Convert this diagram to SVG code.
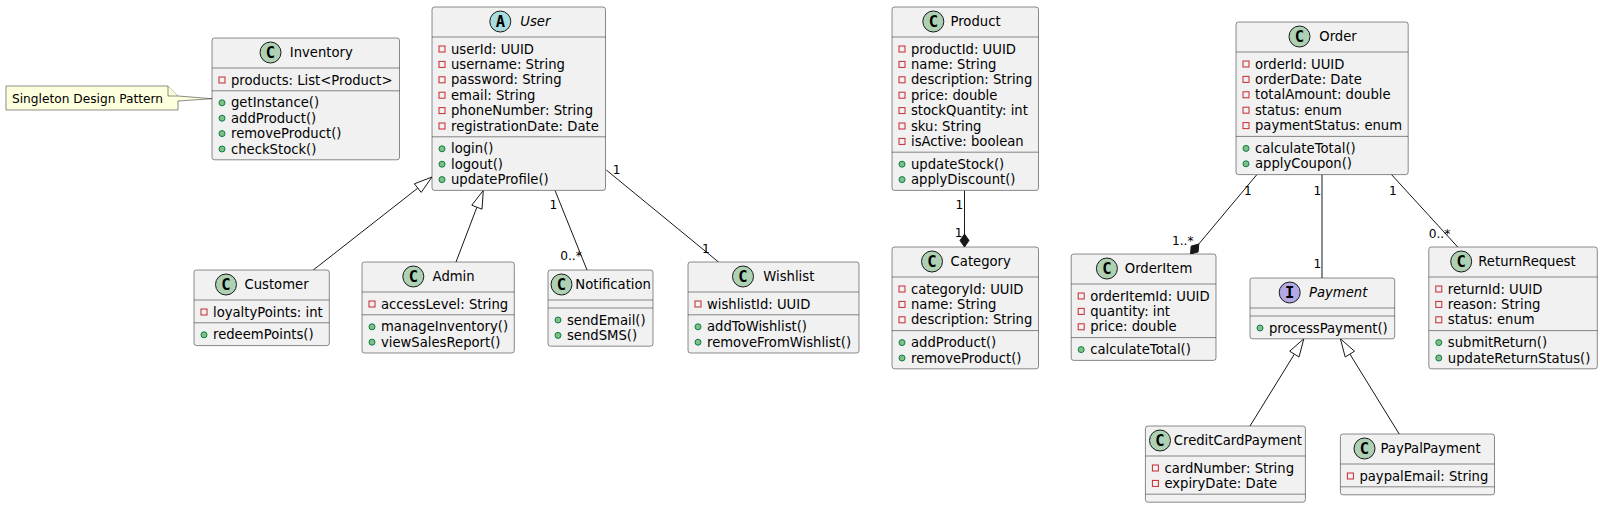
<svg xmlns="http://www.w3.org/2000/svg" width="1600" height="507" viewBox="0 0 1600 507">
<style>
.bg{fill:#FFFFFF}
.box{fill:#F1F1F1;stroke:#181818;stroke-width:0.5}
.sep{stroke:#181818;stroke-width:0.5}
.t{font-family:"DejaVu Sans",sans-serif;font-size:13.2px;fill:#000000}
.it{font-style:italic}
.lb{font-family:"DejaVu Sans",sans-serif;font-size:12.2px;fill:#000000;text-anchor:middle}
.nt{font-family:"DejaVu Sans",sans-serif;font-size:12.2px;fill:#000000}
.ck{font-family:"DejaVu Sans Mono",monospace;font-size:15.5px;font-weight:bold;fill:#000000;text-anchor:middle}
.cc{fill:#ADD1B2;stroke:#181818;stroke-width:1}
.ca{fill:#A9DCDF;stroke:#181818;stroke-width:1}
.ci{fill:#B4A7E5;stroke:#181818;stroke-width:1}
.pv{fill:none;stroke:#C82930;stroke-width:1}
.pb{fill:#84BE84;stroke:#038048;stroke-width:1}
.e{fill:none;stroke:#181818;stroke-width:1}
.tri{fill:#FFFFFF;stroke:#181818;stroke-width:1}
.dia{fill:#181818;stroke:#181818;stroke-width:1}
.note{fill:#FEFFDD;stroke:#181818;stroke-width:0.5}
</style>
<rect class="bg" x="0" y="0" width="1600" height="507"/>

<g id="connectors">
  <!-- Customer -> User -->
  <line class="e" x1="313.3" y1="270" x2="417.8" y2="188.1"/>
  <polygon class="tri" points="432,177 421.2,192.4 414.4,183.8"/>
  <!-- Admin -> User -->
  <line class="e" x1="456" y1="262" x2="476.9" y2="207.2"/>
  <polygon class="tri" points="483.3,190.4 482.0,209.2 471.8,205.2"/>
  <!-- User - Notification -->
  <line class="e" x1="555" y1="190.4" x2="587" y2="270"/>
  <text class="lb" x="553.5" y="209.3">1</text>
  <text class="lb" x="571" y="260">0..*</text>
  <!-- User - Wishlist -->
  <line class="e" x1="606.3" y1="170" x2="718.5" y2="262"/>
  <text class="lb" x="616.7" y="173.5">1</text>
  <text class="lb" x="706" y="252.5">1</text>
  <!-- Product - Category (composition) -->
  <line class="e" x1="964.5" y1="190.4" x2="964.5" y2="234"/>
  <polygon class="dia" points="964.5,247 969,240.5 964.5,234 960,240.5"/>
  <text class="lb" x="959.3" y="209.3">1</text>
  <text class="lb" x="958.7" y="236.5">1</text>
  <!-- Order - OrderItem (composition) -->
  <line class="e" x1="1256.9" y1="174.6" x2="1198.8" y2="244"/>
  <polygon class="dia" points="1190.5,254 1198.1,251.9 1198.8,244 1191.2,246.1"/>
  <text class="lb" x="1248" y="195">1</text>
  <text class="lb" x="1182.7" y="245">1..*</text>
  <!-- Order - Payment -->
  <line class="e" x1="1322" y1="174.6" x2="1322" y2="278"/>
  <text class="lb" x="1317.3" y="195">1</text>
  <text class="lb" x="1317.3" y="267.5">1</text>
  <!-- Order - ReturnRequest -->
  <line class="e" x1="1391.5" y1="174.6" x2="1457.7" y2="247"/>
  <text class="lb" x="1393" y="195">1</text>
  <text class="lb" x="1439.5" y="237.5">0..*</text>
  <!-- CreditCardPayment -> Payment -->
  <line class="e" x1="1250" y1="426" x2="1294.4" y2="354.1"/>
  <polygon class="tri" points="1303.8,338.8 1299.0,357.0 1289.7,351.2"/>
  <!-- PayPalPayment -> Payment -->
  <line class="e" x1="1399.2" y1="434" x2="1349.9" y2="354.1"/>
  <polygon class="tri" points="1340.4,338.8 1354.5,351.2 1345.2,357.0"/>
</g>

<g id="note">
  <path class="note" d="M6,86 L168,86 L178,96 L212,98.7 L178,101 L178,110 L6,110 Z"/>
  <path class="note" d="M168,86 L168,96 L178,96" fill="none"/>
  <text class="nt" x="12" y="103">Singleton Design Pattern</text>
</g>

<g id="Inventory">
  <rect class="box" x="212" y="38" width="187.5" height="121.8" rx="2.5"/>
  <circle class="cc" cx="270.5" cy="52.5" r="10.5"/>
  <text class="ck" x="270.5" y="58.1">C</text>
  <text class="t" x="289.8" y="57">Inventory</text>
  <line class="sep" x1="212" y1="68" x2="399.5" y2="68"/>
  <rect class="pv" x="219" y="77" width="6" height="6"/>
  <text class="t" x="231" y="84.5">products: List&lt;Product&gt;</text>
  <line class="sep" x1="212" y1="90.8" x2="399.5" y2="90.8"/>
  <circle class="pb" cx="222" cy="102.8" r="3"/>
  <text class="t" x="231" y="107.3">getInstance()</text>
  <circle class="pb" cx="222" cy="118.2" r="3"/>
  <text class="t" x="231" y="122.7">addProduct()</text>
  <circle class="pb" cx="222" cy="133.6" r="3"/>
  <text class="t" x="231" y="138.1">removeProduct()</text>
  <circle class="pb" cx="222" cy="149" r="3"/>
  <text class="t" x="231" y="153.5">checkStock()</text>
</g>

<g id="User">
  <rect class="box" x="432" y="7" width="173.5" height="183.4" rx="2.5"/>
  <circle class="ca" cx="500.3" cy="21.5" r="10.5"/>
  <text class="ck" x="500.3" y="27.1">A</text>
  <text class="t it" x="520.3" y="26">User</text>
  <line class="sep" x1="432" y1="37" x2="605.5" y2="37"/>
  <rect class="pv" x="439" y="46" width="6" height="6"/>
  <text class="t" x="451" y="53.5">userId: UUID</text>
  <rect class="pv" x="439" y="61.4" width="6" height="6"/>
  <text class="t" x="451" y="68.9">username: String</text>
  <rect class="pv" x="439" y="76.8" width="6" height="6"/>
  <text class="t" x="451" y="84.3">password: String</text>
  <rect class="pv" x="439" y="92.2" width="6" height="6"/>
  <text class="t" x="451" y="99.7">email: String</text>
  <rect class="pv" x="439" y="107.6" width="6" height="6"/>
  <text class="t" x="451" y="115.1">phoneNumber: String</text>
  <rect class="pv" x="439" y="123" width="6" height="6"/>
  <text class="t" x="451" y="130.5">registrationDate: Date</text>
  <line class="sep" x1="432" y1="136.8" x2="605.5" y2="136.8"/>
  <circle class="pb" cx="442" cy="148.8" r="3"/>
  <text class="t" x="451" y="153.3">login()</text>
  <circle class="pb" cx="442" cy="164.2" r="3"/>
  <text class="t" x="451" y="168.7">logout()</text>
  <circle class="pb" cx="442" cy="179.6" r="3"/>
  <text class="t" x="451" y="184.1">updateProfile()</text>
</g>

<g id="Product">
  <rect class="box" x="892" y="7" width="146.5" height="183.4" rx="2.5"/>
  <circle class="cc" cx="933.3" cy="21.5" r="10.5"/>
  <text class="ck" x="933.3" y="27.1">C</text>
  <text class="t" x="950.5" y="26">Product</text>
  <line class="sep" x1="892" y1="37" x2="1038.5" y2="37"/>
  <rect class="pv" x="899" y="46" width="6" height="6"/>
  <text class="t" x="911" y="53.5">productId: UUID</text>
  <rect class="pv" x="899" y="61.4" width="6" height="6"/>
  <text class="t" x="911" y="68.9">name: String</text>
  <rect class="pv" x="899" y="76.8" width="6" height="6"/>
  <text class="t" x="911" y="84.3">description: String</text>
  <rect class="pv" x="899" y="92.2" width="6" height="6"/>
  <text class="t" x="911" y="99.7">price: double</text>
  <rect class="pv" x="899" y="107.6" width="6" height="6"/>
  <text class="t" x="911" y="115.1">stockQuantity: int</text>
  <rect class="pv" x="899" y="123" width="6" height="6"/>
  <text class="t" x="911" y="130.5">sku: String</text>
  <rect class="pv" x="899" y="138.4" width="6" height="6"/>
  <text class="t" x="911" y="145.9">isActive: boolean</text>
  <line class="sep" x1="892" y1="152.2" x2="1038.5" y2="152.2"/>
  <circle class="pb" cx="902" cy="164.2" r="3"/>
  <text class="t" x="911" y="168.7">updateStock()</text>
  <circle class="pb" cx="902" cy="179.6" r="3"/>
  <text class="t" x="911" y="184.1">applyDiscount()</text>
</g>

<g id="Category">
  <rect class="box" x="892" y="247" width="146.5" height="121.8" rx="2.5"/>
  <circle class="cc" cx="932" cy="261.5" r="10.5"/>
  <text class="ck" x="932" y="267.1">C</text>
  <text class="t" x="950.6" y="266">Category</text>
  <line class="sep" x1="892" y1="277" x2="1038.5" y2="277"/>
  <rect class="pv" x="899" y="286" width="6" height="6"/>
  <text class="t" x="911" y="293.5">categoryId: UUID</text>
  <rect class="pv" x="899" y="301.4" width="6" height="6"/>
  <text class="t" x="911" y="308.9">name: String</text>
  <rect class="pv" x="899" y="316.8" width="6" height="6"/>
  <text class="t" x="911" y="324.3">description: String</text>
  <line class="sep" x1="892" y1="330.6" x2="1038.5" y2="330.6"/>
  <circle class="pb" cx="902" cy="342.6" r="3"/>
  <text class="t" x="911" y="347.1">addProduct()</text>
  <circle class="pb" cx="902" cy="358" r="3"/>
  <text class="t" x="911" y="362.5">removeProduct()</text>
</g>

<g id="Order">
  <rect class="box" x="1236" y="22" width="172.2" height="152.6" rx="2.5"/>
  <circle class="cc" cx="1299.5" cy="36.5" r="10.5"/>
  <text class="ck" x="1299.5" y="42.1">C</text>
  <text class="t" x="1319.3" y="41">Order</text>
  <line class="sep" x1="1236" y1="52" x2="1408.2" y2="52"/>
  <rect class="pv" x="1243" y="61" width="6" height="6"/>
  <text class="t" x="1255" y="68.5">orderId: UUID</text>
  <rect class="pv" x="1243" y="76.4" width="6" height="6"/>
  <text class="t" x="1255" y="83.9">orderDate: Date</text>
  <rect class="pv" x="1243" y="91.8" width="6" height="6"/>
  <text class="t" x="1255" y="99.3">totalAmount: double</text>
  <rect class="pv" x="1243" y="107.2" width="6" height="6"/>
  <text class="t" x="1255" y="114.7">status: enum</text>
  <rect class="pv" x="1243" y="122.6" width="6" height="6"/>
  <text class="t" x="1255" y="130.1">paymentStatus: enum</text>
  <line class="sep" x1="1236" y1="136.4" x2="1408.2" y2="136.4"/>
  <circle class="pb" cx="1246" cy="148.4" r="3"/>
  <text class="t" x="1255" y="152.9">calculateTotal()</text>
  <circle class="pb" cx="1246" cy="163.8" r="3"/>
  <text class="t" x="1255" y="168.3">applyCoupon()</text>
</g>

<g id="Customer">
  <rect class="box" x="194" y="270" width="135.3" height="75.6" rx="2.5"/>
  <circle class="cc" cx="226" cy="284.5" r="10.5"/>
  <text class="ck" x="226" y="290.1">C</text>
  <text class="t" x="244.5" y="289">Customer</text>
  <line class="sep" x1="194" y1="300" x2="329.3" y2="300"/>
  <rect class="pv" x="201" y="309" width="6" height="6"/>
  <text class="t" x="213" y="316.5">loyaltyPoints: int</text>
  <line class="sep" x1="194" y1="322.8" x2="329.3" y2="322.8"/>
  <circle class="pb" cx="204" cy="334.8" r="3"/>
  <text class="t" x="213" y="339.3">redeemPoints()</text>
</g>

<g id="Admin">
  <rect class="box" x="362" y="262" width="152.3" height="91" rx="2.5"/>
  <circle class="cc" cx="413.3" cy="276.5" r="10.5"/>
  <text class="ck" x="413.3" y="282.1">C</text>
  <text class="t" x="432.6" y="281">Admin</text>
  <line class="sep" x1="362" y1="292" x2="514.3" y2="292"/>
  <rect class="pv" x="369" y="301" width="6" height="6"/>
  <text class="t" x="381" y="308.5">accessLevel: String</text>
  <line class="sep" x1="362" y1="314.8" x2="514.3" y2="314.8"/>
  <circle class="pb" cx="372" cy="326.8" r="3"/>
  <text class="t" x="381" y="331.3">manageInventory()</text>
  <circle class="pb" cx="372" cy="342.2" r="3"/>
  <text class="t" x="381" y="346.7">viewSalesReport()</text>
</g>

<g id="Notification">
  <rect class="box" x="548" y="270" width="105" height="76.2" rx="2.5"/>
  <circle class="cc" cx="561.5" cy="284.5" r="10.5"/>
  <text class="ck" x="561.5" y="290.1">C</text>
  <text class="t" x="575.3" y="289">Notification</text>
  <line class="sep" x1="548" y1="300" x2="653" y2="300"/>
  <line class="sep" x1="548" y1="308" x2="653" y2="308"/>
  <circle class="pb" cx="558" cy="320" r="3"/>
  <text class="t" x="567" y="324.5">sendEmail()</text>
  <circle class="pb" cx="558" cy="335.4" r="3"/>
  <text class="t" x="567" y="339.9">sendSMS()</text>
</g>

<g id="Wishlist">
  <rect class="box" x="688" y="262" width="171" height="91" rx="2.5"/>
  <circle class="cc" cx="743" cy="276.5" r="10.5"/>
  <text class="ck" x="743" y="282.1">C</text>
  <text class="t" x="763.3" y="281">Wishlist</text>
  <line class="sep" x1="688" y1="292" x2="859" y2="292"/>
  <rect class="pv" x="695" y="301" width="6" height="6"/>
  <text class="t" x="707" y="308.5">wishlistId: UUID</text>
  <line class="sep" x1="688" y1="314.8" x2="859" y2="314.8"/>
  <circle class="pb" cx="698" cy="326.8" r="3"/>
  <text class="t" x="707" y="331.3">addToWishlist()</text>
  <circle class="pb" cx="698" cy="342.2" r="3"/>
  <text class="t" x="707" y="346.7">removeFromWishlist()</text>
</g>

<g id="OrderItem">
  <rect class="box" x="1071.2" y="254" width="144.8" height="106.4" rx="2.5"/>
  <circle class="cc" cx="1106.9" cy="268.5" r="10.5"/>
  <text class="ck" x="1106.9" y="274.1">C</text>
  <text class="t" x="1124.8" y="273">OrderItem</text>
  <line class="sep" x1="1071.2" y1="284" x2="1216" y2="284"/>
  <rect class="pv" x="1078.2" y="293" width="6" height="6"/>
  <text class="t" x="1090.2" y="300.5">orderItemId: UUID</text>
  <rect class="pv" x="1078.2" y="308.4" width="6" height="6"/>
  <text class="t" x="1090.2" y="315.9">quantity: int</text>
  <rect class="pv" x="1078.2" y="323.8" width="6" height="6"/>
  <text class="t" x="1090.2" y="331.3">price: double</text>
  <line class="sep" x1="1071.2" y1="337.6" x2="1216" y2="337.6"/>
  <circle class="pb" cx="1081.2" cy="349.6" r="3"/>
  <text class="t" x="1090.2" y="354.1">calculateTotal()</text>
</g>

<g id="Payment">
  <rect class="box" x="1250" y="278" width="144.7" height="60.8" rx="2.5"/>
  <circle class="ci" cx="1289.7" cy="292.5" r="10.5"/>
  <text class="ck" x="1289.7" y="298.1">I</text>
  <text class="t it" x="1309" y="297">Payment</text>
  <line class="sep" x1="1250" y1="308" x2="1394.7" y2="308"/>
  <line class="sep" x1="1250" y1="316" x2="1394.7" y2="316"/>
  <circle class="pb" cx="1260" cy="328" r="3"/>
  <text class="t" x="1269" y="332.5">processPayment()</text>
</g>

<g id="ReturnRequest">
  <rect class="box" x="1428.8" y="247" width="168.5" height="121.8" rx="2.5"/>
  <circle class="cc" cx="1461.2" cy="261.5" r="10.5"/>
  <text class="ck" x="1461.2" y="267.1">C</text>
  <text class="t" x="1478.3" y="266">ReturnRequest</text>
  <line class="sep" x1="1428.8" y1="277" x2="1597.3" y2="277"/>
  <rect class="pv" x="1435.8" y="286" width="6" height="6"/>
  <text class="t" x="1447.8" y="293.5">returnId: UUID</text>
  <rect class="pv" x="1435.8" y="301.4" width="6" height="6"/>
  <text class="t" x="1447.8" y="308.9">reason: String</text>
  <rect class="pv" x="1435.8" y="316.8" width="6" height="6"/>
  <text class="t" x="1447.8" y="324.3">status: enum</text>
  <line class="sep" x1="1428.8" y1="330.6" x2="1597.3" y2="330.6"/>
  <circle class="pb" cx="1438.8" cy="342.6" r="3"/>
  <text class="t" x="1447.8" y="347.1">submitReturn()</text>
  <circle class="pb" cx="1438.8" cy="358" r="3"/>
  <text class="t" x="1447.8" y="362.5">updateReturnStatus()</text>
</g>

<g id="CreditCardPayment">
  <rect class="box" x="1145.4" y="426" width="160" height="76.2" rx="2.5"/>
  <circle class="cc" cx="1160" cy="440.5" r="10.5"/>
  <text class="ck" x="1160" y="446.1">C</text>
  <text class="t" x="1173.8" y="445">CreditCardPayment</text>
  <line class="sep" x1="1145.4" y1="456" x2="1305.4" y2="456"/>
  <rect class="pv" x="1152.4" y="465" width="6" height="6"/>
  <text class="t" x="1164.4" y="472.5">cardNumber: String</text>
  <rect class="pv" x="1152.4" y="480.4" width="6" height="6"/>
  <text class="t" x="1164.4" y="487.9">expiryDate: Date</text>
  <line class="sep" x1="1145.4" y1="494.2" x2="1305.4" y2="494.2"/>
</g>

<g id="PayPalPayment">
  <rect class="box" x="1340.4" y="434" width="154.1" height="60.8" rx="2.5"/>
  <circle class="cc" cx="1364.5" cy="448.5" r="10.5"/>
  <text class="ck" x="1364.5" y="454.1">C</text>
  <text class="t" x="1380.5" y="453">PayPalPayment</text>
  <line class="sep" x1="1340.4" y1="464" x2="1494.5" y2="464"/>
  <rect class="pv" x="1347.4" y="473" width="6" height="6"/>
  <text class="t" x="1359.4" y="480.5">paypalEmail: String</text>
  <line class="sep" x1="1340.4" y1="486.8" x2="1494.5" y2="486.8"/>
</g>
</svg>
